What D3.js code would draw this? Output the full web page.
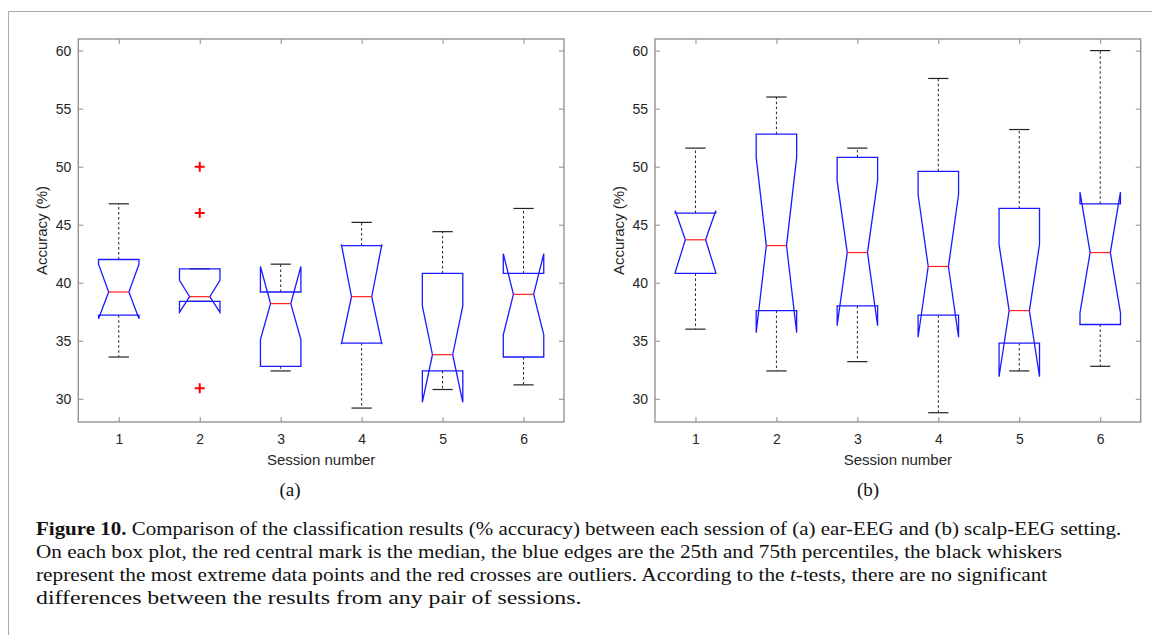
<!DOCTYPE html>
<html>
<head>
<meta charset="utf-8">
<script src="https://cdn.jsdelivr.net/npm/d3@7"></script>
<style>
  html, body { margin: 0; padding: 0; background: #fff; }
  svg { display: block; }
</style>
</head>
<body>
<svg id="chart" width="1152" height="635"></svg>
<script>
// ---------- DATA ----------
const sessions = [1, 2, 3, 4, 5, 6];
const yTicks = [30, 35, 40, 45, 50, 55, 60];

// (a) ear-EEG
const earMin     = [33.6, 38.4, 32.4, 29.2, 30.8, 31.2];
const earQ1      = [37.2, 38.4, 32.8, 34.8, 32.4, 33.6];
const earMedian  = [39.2, 38.8, 38.2, 38.8, 33.8, 39.0];
const earQ3      = [42.0, 41.2, 39.2, 43.2, 40.8, 40.8];
const earMax     = [46.8, 41.2, 41.6, 45.2, 44.4, 46.4];
const earNotchLo = [36.9, 37.45, 35.1, 34.7, 29.7, 35.5];
const earNotchHi = [41.6, 40.2, 41.4, 43.3, 38.0, 42.5];
const earOutlierSession = [2, 2, 2];
const earOutlierValue   = [50.0, 46.0, 30.9];

// (b) scalp-EEG
const scalpMin     = [36.0, 32.4, 33.2, 28.8, 32.4, 32.8];
const scalpQ1      = [40.8, 37.6, 38.0, 37.2, 34.8, 36.4];
const scalpMedian  = [43.7, 43.2, 42.6, 41.4, 37.6, 42.6];
const scalpQ3      = [46.0, 52.8, 50.8, 49.6, 46.4, 46.8];
const scalpMax     = [51.6, 56.0, 51.6, 57.6, 53.2, 60.0];
const scalpNotchLo = [40.9, 35.7, 36.3, 35.3, 31.9, 37.4];
const scalpNotchHi = [46.2, 50.8, 48.8, 47.6, 43.3, 47.8];
const scalpOutlierSession = [];
const scalpOutlierValue   = [];

const xLabel = "Session number";
const yLabel = "Accuracy (%)";
const panelLabels = ["(a)", "(b)"];

// ---------- DRAW ----------
const svg = d3.select("#chart");

// outer frame
svg.append("path")
  .attr("d", "M8.5,635 L8.5,11.5 L1152,11.5")
  .attr("fill", "none").attr("stroke", "#a8a8a8").attr("stroke-width", 1);

function boxData(mn, q1, md, q3, mx, nlo, nhi) {
  return sessions.map((s, i) => ({s, min: mn[i], q1: q1[i], med: md[i], q3: q3[i], max: mx[i], nlo: nlo[i], nhi: nhi[i]}));
}

const panels = [
  {left: 78.3, right: 564, label: panelLabels[0], labelX: 290,
   boxes: boxData(earMin, earQ1, earMedian, earQ3, earMax, earNotchLo, earNotchHi),
   outliers: earOutlierSession.map((s, i) => ({s, v: earOutlierValue[i]}))},
  {left: 655, right: 1140.7, label: panelLabels[1], labelX: 868,
   boxes: boxData(scalpMin, scalpQ1, scalpMedian, scalpQ3, scalpMax, scalpNotchLo, scalpNotchHi),
   outliers: scalpOutlierSession.map((s, i) => ({s, v: scalpOutlierValue[i]}))}
];

const plotTop = 39, plotBottom = 422;
const axisColor = "#8c8c8c";
const textColor = "#262626";
const sans = "'Liberation Sans', Arial, sans-serif";

panels.forEach(p => {
  const x = d3.scaleLinear().domain([0.5, 6.5]).range([p.left, p.right]);
  const y = d3.scaleLinear().domain([28, 61]).range([plotBottom, plotTop]);
  const bw = x(1.5) - x(1.0);   // box width 0.5 units
  const g = svg.append("g");

  // axes
  const styleAxis = sel => {
    sel.select(".domain").remove();
    sel.selectAll(".tick line").attr("stroke", axisColor).attr("stroke-width", 1);
    sel.selectAll(".tick text").attr("fill", textColor)
      .style("font-family", sans).style("font-size", "14px");
  };
  g.append("g").attr("transform", `translate(0,${plotBottom})`)
    .call(d3.axisBottom(x).tickValues(sessions).tickFormat(d3.format("d")).tickSize(-5).tickPadding(12))
    .call(styleAxis);
  g.append("g").attr("transform", `translate(0,${plotTop})`)
    .call(d3.axisTop(x).tickValues(sessions).tickFormat("").tickSize(-5))
    .call(styleAxis);
  g.append("g").attr("transform", `translate(${p.left},0)`)
    .call(d3.axisLeft(y).tickValues(yTicks).tickFormat(d3.format("d")).tickSize(-5).tickPadding(7))
    .call(styleAxis);
  g.append("g").attr("transform", `translate(${p.right},0)`)
    .call(d3.axisRight(y).tickValues(yTicks).tickFormat("").tickSize(-5))
    .call(styleAxis);
  g.append("rect")
    .attr("x", p.left).attr("y", plotTop)
    .attr("width", p.right - p.left).attr("height", plotBottom - plotTop)
    .attr("fill", "none").attr("stroke", axisColor).attr("stroke-width", 1.3);

  // whiskers
  const bx = g.selectAll(".bx").data(p.boxes).join("g");
  bx.append("line")
    .attr("x1", d => x(d.s)).attr("x2", d => x(d.s))
    .attr("y1", d => y(d.q3)).attr("y2", d => y(d.max))
    .attr("stroke", "#222").attr("stroke-width", 1).attr("stroke-dasharray", "2.5,2.5");
  bx.append("line")
    .attr("x1", d => x(d.s)).attr("x2", d => x(d.s))
    .attr("y1", d => y(d.q1)).attr("y2", d => y(d.min))
    .attr("stroke", "#222").attr("stroke-width", 1).attr("stroke-dasharray", "2.5,2.5");
  ["max", "min"].forEach(k => {
    bx.append("line")
      .attr("x1", d => x(d.s) - bw / 4).attr("x2", d => x(d.s) + bw / 4)
      .attr("y1", d => y(d[k])).attr("y2", d => y(d[k]))
      .attr("stroke", "#222").attr("stroke-width", 1.2);
  });

  // notched boxes
  bx.append("path")
    .attr("d", d => {
      const c = x(d.s), h = bw / 2, q = bw / 4;
      return `M${c - h},${y(d.q1)} L${c - h},${y(d.nlo)} L${c - q},${y(d.med)} L${c - h},${y(d.nhi)} L${c - h},${y(d.q3)}` +
             ` L${c + h},${y(d.q3)} L${c + h},${y(d.nhi)} L${c + q},${y(d.med)} L${c + h},${y(d.nlo)} L${c + h},${y(d.q1)} Z`;
    })
    .attr("fill", "none").attr("stroke", "#1a1aff").attr("stroke-width", 1.3).attr("stroke-linejoin", "miter");

  // medians
  bx.append("line")
    .attr("x1", d => x(d.s) - bw / 4).attr("x2", d => x(d.s) + bw / 4)
    .attr("y1", d => y(d.med)).attr("y2", d => y(d.med))
    .attr("stroke", "#ff2020").attr("stroke-width", 1.2);

  // outliers
  g.selectAll(".out").data(p.outliers).join("path")
    .attr("d", d => `M${x(d.s) - 5},${y(d.v)} H${x(d.s) + 5} M${x(d.s)},${y(d.v) - 5} V${y(d.v) + 5}`)
    .attr("stroke", "#ff0000").attr("stroke-width", 2).attr("fill", "none");

  // axis labels
  g.append("text")
    .attr("x", (p.left + p.right) / 2).attr("y", 465)
    .attr("text-anchor", "middle").attr("fill", textColor)
    .style("font-family", sans).style("font-size", "15px")
    .text(xLabel);
  g.append("text")
    .attr("transform", `translate(${p.left - 31},${(plotTop + plotBottom) / 2}) rotate(-90)`)
    .attr("text-anchor", "middle").attr("fill", textColor)
    .style("font-family", sans).style("font-size", "15px")
    .text(yLabel);

  // panel label
  svg.append("text")
    .attr("x", p.labelX).attr("y", 496)
    .attr("text-anchor", "middle").attr("fill", "#111")
    .style("font-family", "'Liberation Serif', 'Times New Roman', serif").style("font-size", "19px")
    .text(p.label);
});

// caption
const captionLines = [
  [{t: "Figure 10.", w: "bold"}, {t: " Comparison of the classification results (% accuracy) between each session of (a) ear-EEG and (b) scalp-EEG setting."}],
  [{t: "On each box plot, the red central mark is the median, the blue edges are the 25th and 75th percentiles, the black whiskers"}],
  [{t: "represent the most extreme data points and the red crosses are outliers. According to the "}, {t: "t", i: true}, {t: "-tests, there are no significant"}],
  [{t: "differences between the results from any pair of sessions."}]
];
const capBase = [535.5, 558.5, 581.5, 604.5];
const capEnd  = [1122, 1063, 1048, 582];
const capLeft = 36;
captionLines.forEach((parts, li) => {
  const lg = svg.append("g");
  const t = lg.append("text").attr("x", 0).attr("y", capBase[li])
    .attr("fill", "#111")
    .style("font-family", "'Liberation Serif', 'Times New Roman', serif").style("font-size", "18px");
  parts.forEach(pt => {
    t.append("tspan").text(pt.t)
      .style("font-weight", pt.w || "normal")
      .style("font-style", pt.i ? "italic" : "normal");
  });
  const natural = t.node().getComputedTextLength();
  const f = (capEnd[li] - capLeft) / natural;
  lg.attr("transform", `translate(${capLeft},0) scale(${f},1)`);
});
</script>
</body>
</html>
